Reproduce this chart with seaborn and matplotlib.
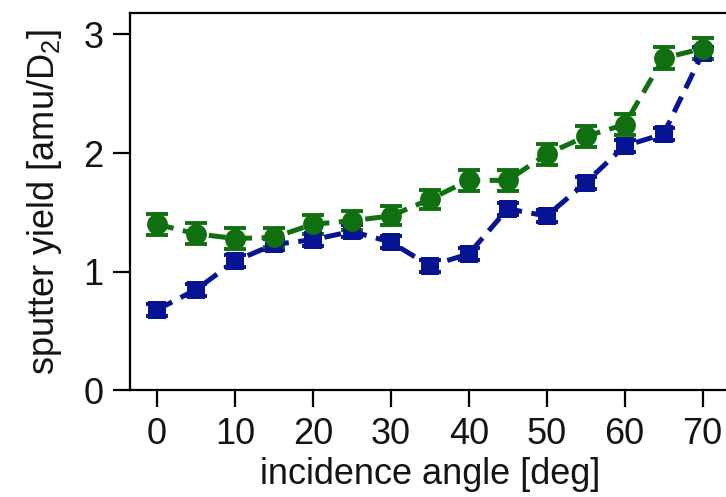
import numpy as np
import pandas as pd
import matplotlib
matplotlib.use("Agg")
import matplotlib.pyplot as plt
import seaborn as sns

# incidence angles [deg]
angles = [0, 5, 10, 15, 20, 25, 30, 35, 40, 45, 50, 55, 60, 65, 70]

# sputter yields [amu/D2] for the two series
yield_green = [1.40, 1.32, 1.28, 1.29, 1.40, 1.43, 1.47, 1.61, 1.77, 1.77, 1.99, 2.14, 2.24, 2.80, 2.88]
err_green = [0.09, 0.09, 0.09, 0.08, 0.08, 0.08, 0.08, 0.08, 0.09, 0.09, 0.09, 0.09, 0.09, 0.09, 0.09]
yield_blue = [0.68, 0.85, 1.09, 1.23, 1.27, 1.34, 1.25, 1.05, 1.15, 1.53, 1.47, 1.75, 2.06, 2.16, 2.84]
err_blue = [0.05, 0.05, 0.05, 0.05, 0.05, 0.05, 0.05, 0.05, 0.05, 0.05, 0.05, 0.05, 0.05, 0.05, 0.05]

x_ticks = [0, 10, 20, 30, 40, 50, 60, 70]
y_ticks = [0, 1, 2, 3]

sns.set_theme(style="ticks")
plt.rcParams["font.family"] = ["Liberation Sans", "DejaVu Sans"]
plt.rcParams["mathtext.fontset"] = "custom"
plt.rcParams["mathtext.rm"] = "Liberation Sans"

GREEN = "#107010"
BLUE = "#061494"
TEXT = "#141414"
FS = 26

df = pd.DataFrame({"angle": angles, "green": yield_green, "blue": yield_blue})

fig = plt.figure(figsize=(7.26, 4.97), dpi=100)
ax = fig.add_axes([0.1787, 0.2143, 0.8265, 0.7596])

dash = (3.4, 1.9)
for col, err, color, marker, ms in [("blue", err_blue, BLUE, "s", 13),
                                    ("green", err_green, GREEN, "o", 15)]:
    ax.errorbar(df["angle"], df[col], yerr=err, fmt="none", ecolor=color,
                elinewidth=3, capsize=8, capthick=2.8, zorder=2)
    sns.lineplot(data=df, x="angle", y=col, ax=ax, color=color, marker=marker,
                 markersize=ms, markeredgewidth=0, linewidth=3.6,
                 dashes=False, zorder=3)
    ax.lines[-1].set_dashes(dash)

ax.set_xlim(-3.5, 73.5)
ax.set_ylim(0, 3.18)
ax.set_xticks(x_ticks)
ax.set_yticks(y_ticks)
ax.tick_params(axis="both", labelsize=FS, length=12, width=1.6, color="black",
               labelcolor=TEXT, pad=7)
for s in ax.spines.values():
    s.set_linewidth(1.6)
    s.set_color("black")

ax.set_xlabel("incidence angle [deg]", fontsize=FS, color=TEXT, labelpad=4)
ax.set_ylabel(r"sputter yield [amu/D$_2$]", fontsize=FS, color=TEXT, labelpad=14)

fig.savefig("out.png", dpi=100)
